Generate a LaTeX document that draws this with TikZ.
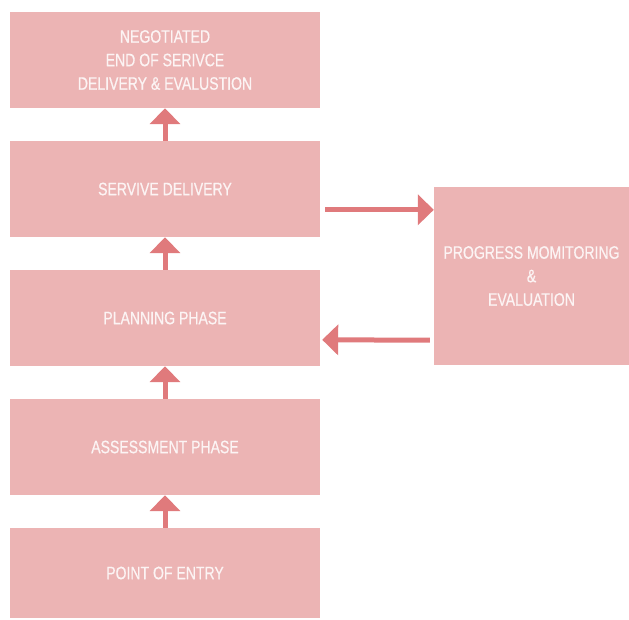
\documentclass[tikz,border=0pt]{standalone}
\usepackage{fontspec}
\setmainfont{Liberation Sans}[FakeStretch=0.78,FakeBold=0.6]
\usetikzlibrary{arrows.meta}
\definecolor{boxpink}{HTML}{ECB4B4}
\definecolor{arrowred}{HTML}{E07A7C}
\definecolor{textwhite}{HTML}{FCF4F4}

\begin{document}
\begin{tikzpicture}
[x=1pt,y=-1pt,
every node/.style={rectangle,fill=boxpink,text=textwhite,align=center,inner sep=0pt,
  font=\fontsize{18}{23.5}\selectfont},
flow/.style={draw=arrowred,line width=5pt,-{Triangle[width=30pt,length=16pt]}}]
\useasboundingbox (0,0) rectangle (629,619);
\node[minimum width=310pt,minimum height=96pt] (n1) at (165,60) {NEGOTIATED\\END OF SERIVCE\\DELIVERY \& EVALUSTION};
\node[minimum width=310pt,minimum height=96pt] (n2) at (165,189) {SERVIVE DELIVERY};
\node[minimum width=310pt,minimum height=96pt] (n3) at (165,318) {PLANNING PHASE};
\node[minimum width=310pt,minimum height=96pt] (n4) at (165,447) {ASSESSMENT PHASE};
\node[minimum width=310pt,minimum height=90pt] (n5) at (165,573) {POINT OF ENTRY};
\node[minimum width=195pt,minimum height=178pt] (n6) at (531.5,276) {PROGRESS MOMITORING\\\&\\EVALUATION};
\foreach \from/\to in {n5/n4,n4/n3,n3/n2,n2/n1}
\draw[flow] (\from.north) -- (\to.south);
\draw[flow] ([xshift=5pt,yshift=-69pt]n2.north east) -- ([yshift=-23pt]n6.north west);
\draw[flow] ([xshift=-4pt,yshift=25pt]n6.south west) -- ([xshift=2pt,yshift=-70pt]n3.north east);
\end{tikzpicture}
\end{document}
